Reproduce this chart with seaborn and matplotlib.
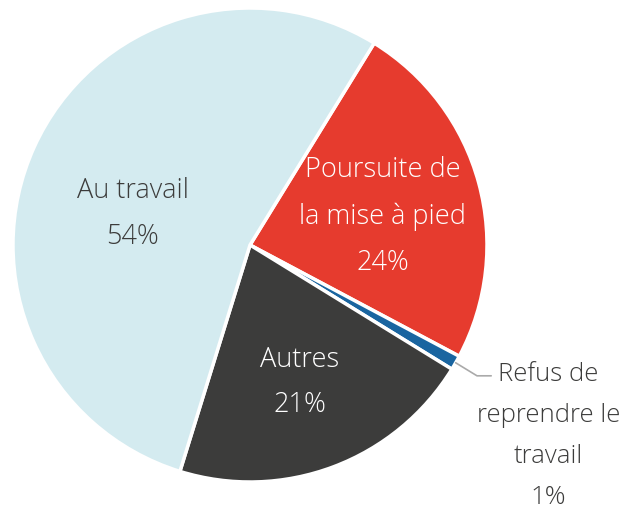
import matplotlib
matplotlib.use("Agg")
import matplotlib.pyplot as plt
import seaborn as sns
import numpy as np

# Data
labels = ["Poursuite de\nla mise à pied", "Refus de\nreprendre le\ntravail", "Autres", "Au travail"]
values = [24, 1, 21, 54]
colors = ["#e63b2e", "#1a65a0", "#3c3c3b", "#d4ebf0"]
text_colors = ["white", "#3c3c3b", "white", "#3c3c3b"]

sns.set_theme(style="white")
plt.rcParams['font.family'] = ['Open Sans', 'DejaVu Sans']

fig = plt.figure(figsize=(6.28, 5.12), dpi=100)
ax = fig.add_axes([13 / 628, 30 / 512, 474 / 628, 474 / 512])

start = 58.4
wedges, _ = ax.pie(values, colors=colors, startangle=start, counterclock=False,
                   radius=1, wedgeprops=dict(edgecolor="white", linewidth=2.5))
ax.set_xlim(-1, 1)
ax.set_ylim(-1, 1)
ax.axis("off")

# label positions (data coords)
label_pos = [(0.56, 0.12), (1.26, -0.805), (0.211, -0.58), (-0.494, 0.13)]
sizes = [19.5, 18.5, 19.5, 19.5]
for lab, v, (x, y), tc, fs in zip(labels, values, label_pos, text_colors, sizes):
    ax.text(x, y, f"{lab}\n{v}%", ha="center", va="center", color=tc,
            fontsize=fs, linespacing=1.85, fontweight="light", clip_on=False)

# leader line for the small slice
w = wedges[1]
mid = np.deg2rad((w.theta1 + w.theta2) / 2)
x0, y0 = np.cos(mid) * 1.0, np.sin(mid) * 1.0
ax.plot([x0, x0 + 0.09, x0 + 0.15], [y0, y0 - 0.055, y0 - 0.055],
        color="#aaaaaa", lw=1.2, clip_on=False)

fig.savefig("out.png", dpi=100, facecolor="white")
